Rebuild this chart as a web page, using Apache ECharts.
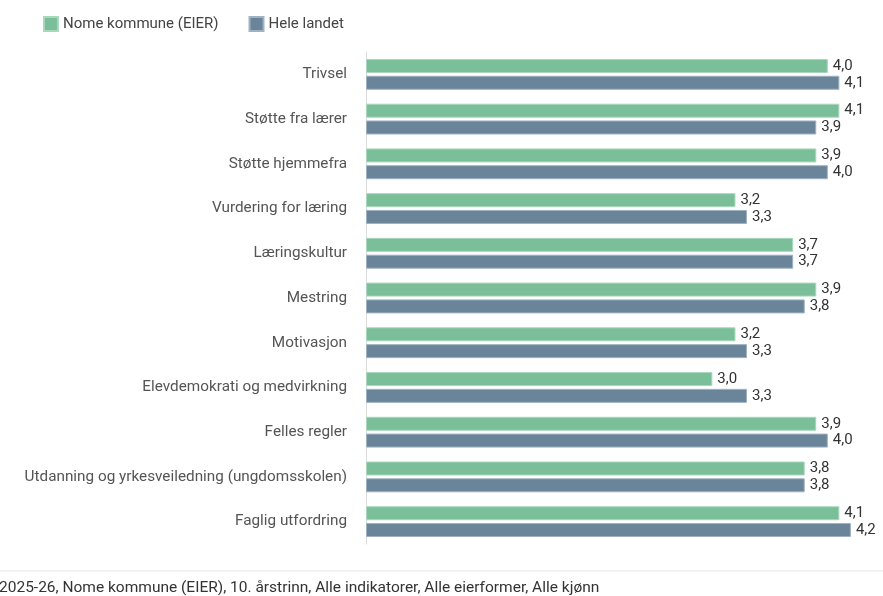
<!DOCTYPE html>
<html><head><meta charset="utf-8">
<script src="https://cdn.jsdelivr.net/npm/echarts@6/dist/echarts.min.js"></script>
<style>html,body{margin:0;padding:0;background:#fff}#c{width:883px;height:596px}</style>
</head><body><div id="c"></div>
<script>
const categories = ["Trivsel","Støtte fra lærer","Støtte hjemmefra","Vurdering for læring","Læringskultur","Mestring","Motivasjon","Elevdemokrati og medvirkning","Felles regler","Utdanning og yrkesveiledning (ungdomsskolen)","Faglig utfordring"];
const kommune = [4.0,4.1,3.9,3.2,3.7,3.9,3.2,3.0,3.9,3.8,4.1];
const landet = [4.1,3.9,4.0,3.3,3.7,3.8,3.3,3.3,4.0,3.8,4.2];
const seriesNames = ["Nome kommune (EIER)","Hele landet"];
const footer = "2025-26, Nome kommune (EIER), 10. årstrinn, Alle indikatorer, Alle eierformer, Alle kjønn";

const chart = echarts.init(document.getElementById('c'));
const fmt = p => p.value.toFixed(1).replace('.', ',');
const lbl = {show:true, position:'right', distance:5, color:'#333', fontSize:15, fontFamily:'Roboto', formatter: fmt};
chart.setOption({
  animation:false,
  textStyle:{fontFamily:'Roboto'},
  legend:{left:38, top:11, itemWidth:14, itemHeight:14, itemGap:30, icon:'rect',
    textStyle:{fontSize:15, color:'#444', fontFamily:'Roboto'}, data:seriesNames},
  grid:{left:366, right:9, top:52, bottom:52},
  xAxis:{type:'value', min:0, max:4.4, show:false},
  yAxis:{type:'category', data:categories, inverse:true,
    axisLine:{show:true, lineStyle:{color:'#dcdcdc'}}, axisTick:{show:false},
    axisLabel:{color:'#555', fontSize:15.3, margin:19, fontFamily:'Roboto'}},
  series:[
    {name:seriesNames[0], type:'bar', data:kommune, barWidth:14, barGap:'20%',
     itemStyle:{color:'#7bbf9a', borderColor:'#a9d8bd', borderWidth:1}, label:lbl},
    {name:seriesNames[1], type:'bar', data:landet, barWidth:14,
     itemStyle:{color:'#6a8499', borderColor:'#9fb2c1', borderWidth:1}, label:lbl}
  ],
  graphic:[
    {type:'line', shape:{x1:0,y1:571,x2:883,y2:571}, style:{stroke:'#e6e6e6', lineWidth:1}},
    {type:'text', left:-1, top:580, style:{text:footer, fontSize:15.5, fill:'#333', fontFamily:'Roboto'}}
  ]
});
</script></body></html>
